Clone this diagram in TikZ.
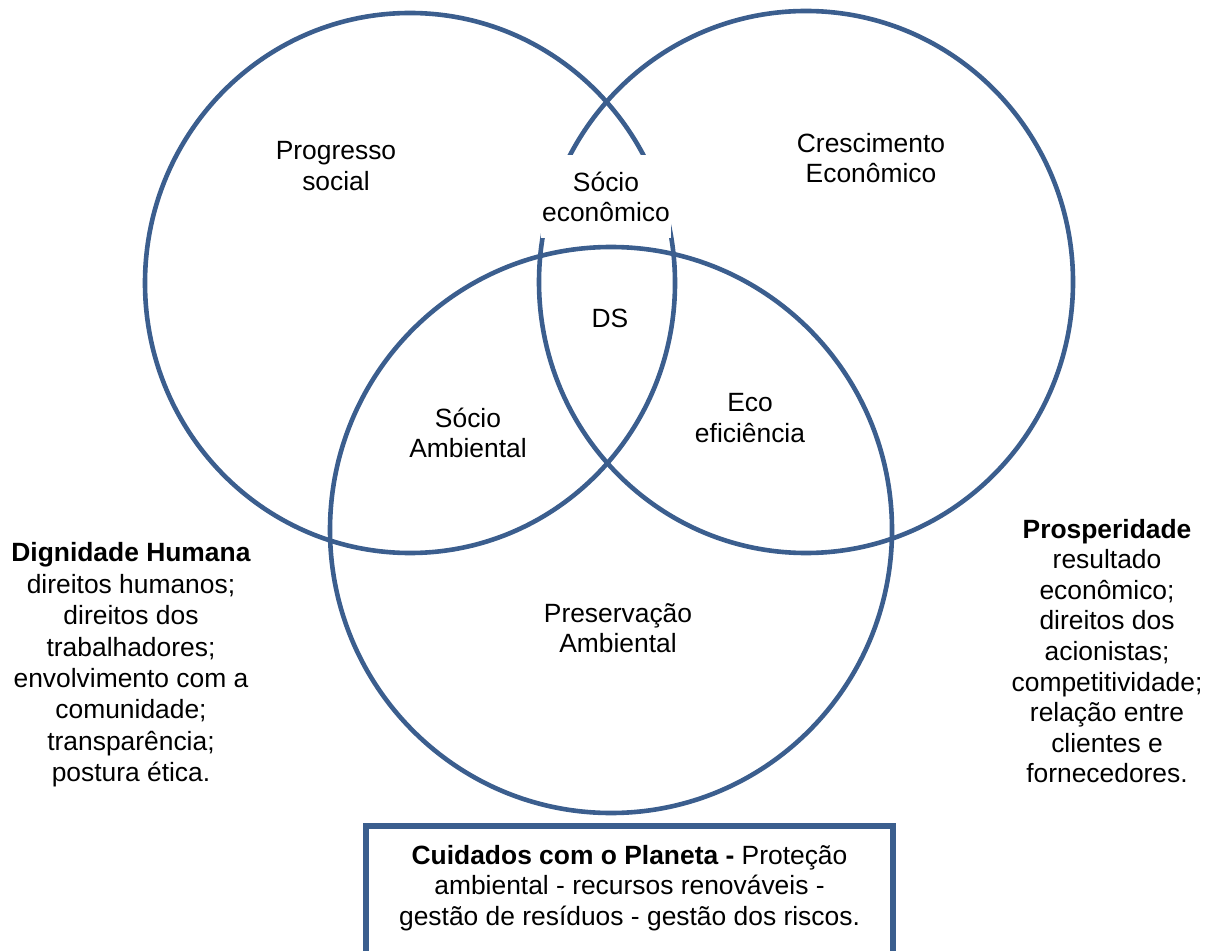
\documentclass[tikz,border=0pt]{standalone}
\usepackage{fontspec}
\setmainfont{Liberation Sans}
\definecolor{ringblue}{HTML}{3B5E8E}
\tikzset{
  ring/.style={line width=2.3pt, draw=ringblue},
  txt/.style={align=center, font=\fontsize{13.2}{15.3}\selectfont, inner sep=0pt},
}
\begin{document}
\begin{tikzpicture}[x=0.5pt, y=-0.5pt]
    \path[use as bounding box, clip] (0,0) rectangle (1208,951);
    % os tres circulos
    \draw[ring] (410,283) ellipse [x radius=265, y radius=270];
    \draw[ring] (806,282) ellipse [x radius=267, y radius=271];
    \draw[ring] (611,530) ellipse [x radius=281, y radius=283];
    % textos dentro dos circulos
    \node[txt] (social) at (336,166) {Progresso\\social};
    \node[txt] (crescimento) at (871,158) {Crescimento\\Econômico};
    \node[txt, fill=white, minimum width=65pt, minimum height=41.5pt] (socioeco) at (606,197) {Sócio\\econômico};
    \node[txt] (ds) at (610,318) {DS};
    \node[txt] (socioamb) at (468,433) {Sócio\\Ambiental};
    \node[txt] (ecoef) at (750,418) {Eco\\eficiência};
    \node[txt] (preservacao) at (618,628) {Preservação\\Ambiental};
    % textos laterais
    \node[txt, font=\fontsize{13.2}{15.7}\selectfont] (dignidade) at (131,665) {\textbf{Dignidade Humana}\\direitos humanos;\\direitos dos\\trabalhadores;\\envolvimento com a\\comunidade;\\transparência;\\postura ética.};
    \node[txt] (prosperidade) at (1107,651) {\textbf{Prosperidade}\\resultado\\econômico;\\direitos dos\\acionistas;\\competitividade;\\relação entre\\clientes e\\fornecedores.};
    % caixa de baixo
    \draw[line width=3pt, draw=ringblue] (366,826) rectangle node[txt, yshift=5pt] (planeta) {\textbf{Cuidados com o Planeta -} Proteção\\ambiental - recursos renováveis -\\gestão de resíduos - gestão dos riscos.} (893,970);
\end{tikzpicture}
\end{document}
